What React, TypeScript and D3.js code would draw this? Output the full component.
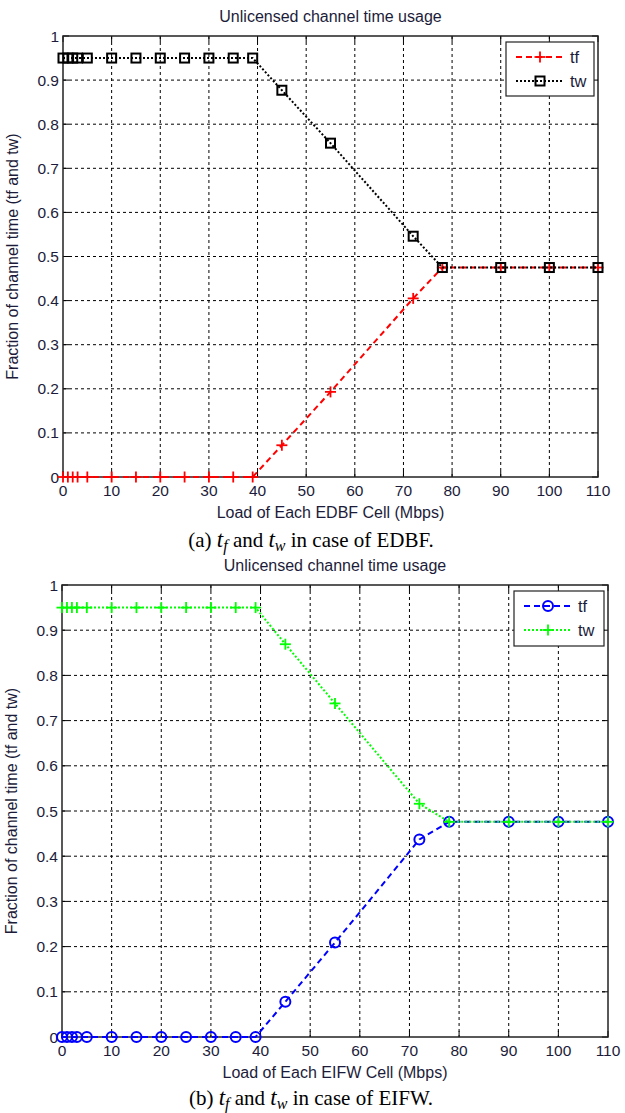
import React from "react";
import * as d3 from "d3";

// load of each cell (Mbps)
const loads = [0, 1, 2, 3, 5, 10, 15, 20, 25, 30, 35, 39, 45, 55, 72, 78, 90, 100, 110];

// (a) EDBF
const edbfTf = [0, 0, 0, 0, 0, 0, 0, 0, 0, 0, 0, 0, 0.072, 0.193, 0.405, 0.475, 0.475, 0.475, 0.475];
const edbfTw = [0.95, 0.95, 0.95, 0.95, 0.95, 0.95, 0.95, 0.95, 0.95, 0.95, 0.95, 0.95, 0.877, 0.757, 0.546, 0.475, 0.475, 0.475, 0.475];

// (b) EIFW
const eifwTf = [0, 0, 0, 0, 0, 0, 0, 0, 0, 0, 0, 0, 0.078, 0.209, 0.437, 0.476, 0.476, 0.476, 0.476];
const eifwTw = [0.95, 0.95, 0.95, 0.95, 0.95, 0.95, 0.95, 0.95, 0.95, 0.95, 0.95, 0.95, 0.869, 0.738, 0.516, 0.476, 0.476, 0.476, 0.476];

const xTicks = [0, 10, 20, 30, 40, 50, 60, 70, 80, 90, 100, 110];
const yTicks = [0, 0.1, 0.2, 0.3, 0.4, 0.5, 0.6, 0.7, 0.8, 0.9, 1];
const seriesNames = ["tf", "tw"];

const SANS = "'Liberation Sans', Arial, sans-serif";
const SERIF = "'Liberation Serif', 'Times New Roman', serif";
const TXT = "#1c1c3a";

type Marker = "plus" | "square" | "circle";
type Series = { name: string; values: number[]; color: string; dash: string; marker: Marker };

function MarkerShape({ kind, x, y, color }: { kind: Marker; x: number; y: number; color: string }) {
  if (kind === "plus")
    return (
      <g stroke={color} strokeWidth={1.8}>
        <line x1={x - 5.5} x2={x + 5.5} y1={y} y2={y} />
        <line x1={x} x2={x} y1={y - 5.5} y2={y + 5.5} />
      </g>
    );
  if (kind === "square")
    return <rect x={x - 4.5} y={y - 4.5} width={9} height={9} fill="none" stroke={color} strokeWidth={2} />;
  return <circle cx={x} cy={y} r={5} fill="none" stroke={color} strokeWidth={2} />;
}

function Panel(props: {
  top: number;
  left: number;
  right: number;
  bottom: number;
  xLabel: string;
  tag: string;
  scheme: string;
  captionDy: number;
  series: Series[];
  legend: { x: number; y: number; w: number; h: number };
}) {
  const { top, left, right, bottom, series, legend } = props;
  const x = d3.scaleLinear().domain([0, 110]).range([left, right]);
  const y = d3.scaleLinear().domain([0, 1]).range([bottom, top]);
  const line = d3
    .line<number>()
    .x((_, i) => x(loads[i]))
    .y((d) => y(d));
  const tick = 6;
  const cx = (left + right) / 2;
  const cy = (top + bottom) / 2;

  return (
    <g>
      <text x={cx} y={top - 14} textAnchor="middle" fontFamily={SANS} fontSize={16} fill={TXT}>
        Unlicensed channel time usage
      </text>
      {/* grid */}
      <g stroke="#000" strokeWidth={1} strokeDasharray="3,3">
        {xTicks.slice(1, -1).map((t) => (
          <line key={"gx" + t} x1={x(t)} x2={x(t)} y1={top} y2={bottom} />
        ))}
        {yTicks.slice(1, -1).map((t) => (
          <line key={"gy" + t} x1={left} x2={right} y1={y(t)} y2={y(t)} />
        ))}
      </g>
      {/* ticks */}
      <g stroke="#000" strokeWidth={1}>
        {xTicks.map((t) => (
          <g key={"tx" + t}>
            <line x1={x(t)} x2={x(t)} y1={bottom} y2={bottom - tick} />
            <line x1={x(t)} x2={x(t)} y1={top} y2={top + tick} />
          </g>
        ))}
        {yTicks.map((t) => (
          <g key={"ty" + t}>
            <line x1={left} x2={left + tick} y1={y(t)} y2={y(t)} />
            <line x1={right} x2={right - tick} y1={y(t)} y2={y(t)} />
          </g>
        ))}
      </g>
      <rect x={left} y={top} width={right - left} height={bottom - top} fill="none" stroke="#222" strokeWidth={1.5} />
      {/* tick labels */}
      <g fontFamily={SANS} fontSize={15.5} fill={TXT}>
        {xTicks.map((t) => (
          <text key={"lx" + t} x={x(t)} y={bottom + 19} textAnchor="middle">
            {t}
          </text>
        ))}
        {yTicks.map((t) => (
          <text key={"ly" + t} x={left - 4} y={y(t) + 5.5} textAnchor="end">
            {t}
          </text>
        ))}
      </g>
      {/* series */}
      {series.map((s) => (
        <g key={s.name}>
          <path d={line(s.values) || ""} fill="none" stroke={s.color} strokeWidth={2} strokeDasharray={s.dash} />
          {s.values.map((v, i) => (
            <MarkerShape key={i} kind={s.marker} x={x(loads[i])} y={y(v)} color={s.color} />
          ))}
        </g>
      ))}
      {/* legend */}
      <rect x={legend.x} y={legend.y} width={legend.w} height={legend.h} fill="#fff" stroke="#222" strokeWidth={1.2} />
      {series.map((s, i) => {
        const ly = legend.y + 15 + i * 24;
        const lx0 = legend.x + 10;
        const lx1 = legend.x + 58;
        return (
          <g key={"lg" + s.name}>
            <line x1={lx0} x2={lx1} y1={ly} y2={ly} stroke={s.color} strokeWidth={2} strokeDasharray={s.dash} />
            <MarkerShape kind={s.marker} x={(lx0 + lx1) / 2} y={ly} color={s.color} />
            <text x={lx1 + 6} y={ly + 6} fontFamily={SANS} fontSize={16.5} fill={TXT}>
              {s.name}
            </text>
          </g>
        );
      })}
      {/* axis labels */}
      <text x={cx} y={bottom + 41} textAnchor="middle" fontFamily={SANS} fontSize={16} fill={TXT}>
        {props.xLabel}
      </text>
      <text
        transform={`translate(${left - 45},${cy}) rotate(-90)`}
        textAnchor="middle"
        fontFamily={SANS}
        fontSize={16}
        fill={TXT}
      >
        Fraction of channel time (tf and tw)
      </text>
      {/* caption */}
      <text x={311} y={bottom + props.captionDy} textAnchor="middle" fontFamily={SERIF} fontSize={21} fill="#000">
        {props.tag}{" "}
        <tspan fontStyle="italic" fontSize={23}>t</tspan>
        <tspan fontStyle="italic" fontSize={16} dy={4}>f</tspan>
        <tspan dy={-4}> and </tspan>
        <tspan fontStyle="italic" fontSize={23}>t</tspan>
        <tspan fontStyle="italic" fontSize={16} dy={4}>w</tspan>
        <tspan dy={-4}> in case of {props.scheme}.</tspan>
      </text>
    </g>
  );
}

export default function App() {
  return (
    <svg
      width={625}
      height={1113}
      style={{ position: "absolute", left: 0, top: 0, background: "#fff" }}
    >
      <Panel
        top={36}
        left={63}
        right={598}
        bottom={477}
        xLabel="Load of Each EDBF Cell (Mbps)"
        tag="(a)"
        scheme="EDBF"
        captionDy={70}
        legend={{ x: 506, y: 42, w: 88, h: 54 }}
        series={[
          { name: seriesNames[0], values: edbfTf, color: "#ff0000", dash: "6,4", marker: "plus" },
          { name: seriesNames[1], values: edbfTw, color: "#000000", dash: "2,2", marker: "square" },
        ]}
      />
      <Panel
        top={585}
        left={62}
        right={608}
        bottom={1037}
        xLabel="Load of Each EIFW Cell (Mbps)"
        tag="(b)"
        scheme="EIFW"
        captionDy={68}
        legend={{ x: 514, y: 591, w: 90, h: 55 }}
        series={[
          { name: seriesNames[0], values: eifwTf, color: "#0000ff", dash: "6,4", marker: "circle" },
          { name: seriesNames[1], values: eifwTw, color: "#00ff00", dash: "2,2", marker: "plus" },
        ]}
      />
    </svg>
  );
}
